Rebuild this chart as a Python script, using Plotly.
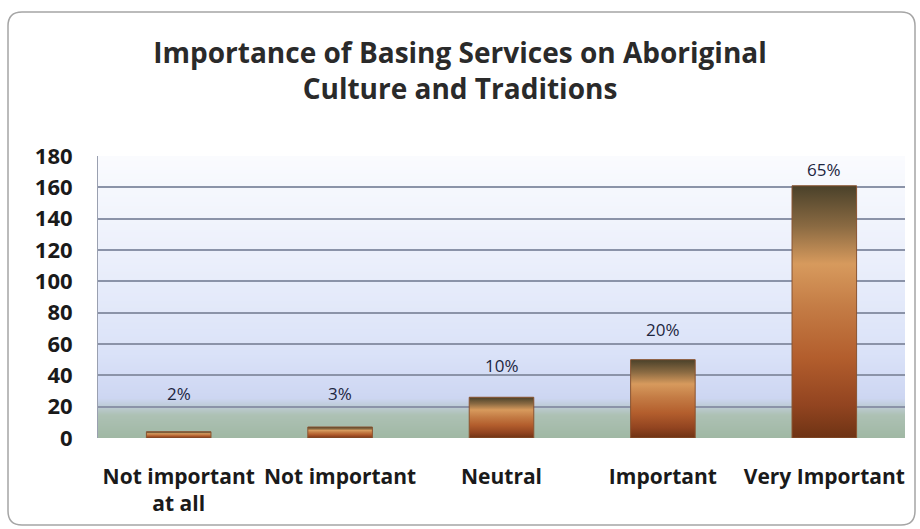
import base64
import struct
import zlib

import plotly.graph_objects as go

# Survey responses
categories = ["Not important<br>at all", "Not important", "Neutral", "Important", "Very Important"]
responses = [4, 7, 26, 50, 161]
y_ticks = [0, 20, 40, 60, 80, 100, 120, 140, 160, 180]

total = sum(responses)
percent_labels = [f"{round(100 * v / total)}%" for v in responses]

FONT = "Open Sans, Lato, Liberation Sans, sans-serif"

W, H = 920, 529
M = dict(l=98, r=15, t=156, b=91)
PW = W - M["l"] - M["r"]
PH = H - M["t"] - M["b"]


def px_x(px):
    return (px - M["l"]) / PW


def px_y(py):
    return (H - M["b"] - py) / PH


def png_column(colors):
    """Build a 1-pixel-wide PNG from a list of RGB rows."""
    raw = b"".join(b"\x00" + bytes(c) for c in colors)

    def chunk(tag, data):
        c = struct.pack(">I", len(data)) + tag + data
        return c + struct.pack(">I", zlib.crc32(tag + data) & 0xFFFFFFFF)

    ihdr = struct.pack(">IIBBBBB", 1, len(colors), 8, 2, 0, 0, 0)
    png = b"\x89PNG\r\n\x1a\n" + chunk(b"IHDR", ihdr) + chunk(b"IDAT", zlib.compress(raw)) + chunk(b"IEND", b"")
    return "data:image/png;base64," + base64.b64encode(png).decode()


def lerp_stops(stops, n):
    out = []
    for i in range(n):
        t = i / (n - 1)
        for (t0, c0), (t1, c1) in zip(stops, stops[1:]):
            if t0 <= t <= t1:
                f = (t - t0) / (t1 - t0) if t1 > t0 else 0
                out.append(tuple(int(round(a + (b - a) * f)) for a, b in zip(c0, c1)))
                break
    return out


# plot-area wash: pale at the top, blue lower down, sage green near the base
bg_stops = [
    (0.00, (250, 251, 254)),
    (0.35, (236, 240, 251)),
    (0.70, (218, 226, 248)),
    (0.86, (205, 214, 242)),
    (0.885, (192, 205, 218)),
    (0.92, (173, 193, 180)),
    (1.00, (160, 184, 164)),
]
bg_uri = png_column(lerp_stops(bg_stops, PH))

bar_scale = [
    [0.00, "#6e3314"],
    [0.13, "#924420"],
    [0.32, "#b35e2d"],
    [0.52, "#c47c45"],
    [0.69, "#d79a5d"],
    [0.84, "#8a6a42"],
    [1.00, "#4a412a"],
]

fig = go.Figure()

half = 0.2
for i, v in enumerate(responses):
    fig.add_trace(go.Scatter(
        x=[i - half, i + half, i + half, i - half, i - half],
        y=[0, 0, v, v, 0],
        mode="lines",
        fill="toself",
        fillgradient=dict(type="vertical", colorscale=bar_scale, start=0, stop=v),
        line=dict(color="#8a5430", width=1),
        hoverinfo="skip",
        showlegend=False,
    ))

label_shift = [36, 31, 29, 28, 14]
for i, (v, lab) in enumerate(zip(responses, percent_labels)):
    fig.add_annotation(
        x=i, y=v, text=lab, showarrow=False, yanchor="bottom", yshift=label_shift[i] - 11,
        font=dict(family=FONT, size=17, color="#1d263f"),
    )

# rounded chart frame
x0, x1 = px_x(8), px_x(915)
y0, y1 = px_y(525), px_y(12)
rx, ry = 14 / PW, 14 / PH
frame = (
    f"M {x0 + rx},{y1} L {x1 - rx},{y1} Q {x1},{y1} {x1},{y1 - ry} "
    f"L {x1},{y0 + ry} Q {x1},{y0} {x1 - rx},{y0} "
    f"L {x0 + rx},{y0} Q {x0},{y0} {x0},{y0 + ry} "
    f"L {x0},{y1 - ry} Q {x0},{y1} {x0 + rx},{y1} Z"
)
fig.add_shape(type="path", path=frame, xref="paper", yref="paper",
              line=dict(color="#a5a5a5", width=1.5), layer="below")

fig.add_layout_image(
    source=bg_uri, xref="paper", yref="paper", x=0, y=1, sizex=1, sizey=1,
    xanchor="left", yanchor="top", sizing="stretch", layer="below",
)

fig.update_layout(
    width=W, height=H,
    margin=M,
    paper_bgcolor="white",
    plot_bgcolor="rgba(0,0,0,0)",
    title=dict(
        text="Importance of Basing Services on Aboriginal<br>Culture and Traditions",
        x=0.5, xref="container", xanchor="center", y=1 - 63 / H, yanchor="top",
        font=dict(family=FONT, size=28, color="#2a2a2a", weight="bold"),
    ),
    xaxis=dict(
        range=[-0.5, 4.5],
        tickvals=list(range(len(categories))),
        ticktext=categories,
        showgrid=False, zeroline=False, showline=False,
        ticks="", ticklabelstandoff=24,
        tickfont=dict(family=FONT, size=21, color="#1a1a1a", weight="bold"),
        fixedrange=True,
    ),
    yaxis=dict(
        range=[0, 180],
        tickvals=y_ticks,
        showgrid=True, gridcolor="#8b93a8", gridwidth=1.5,
        zeroline=True, zerolinecolor="rgba(0,0,0,0)",
        showline=True, linecolor="#9aa0b0", linewidth=1,
        ticks="", ticklabelstandoff=20,
        tickfont=dict(family=FONT, size=22, color="#1a1a1a", weight="bold"),
        fixedrange=True,
    ),
    showlegend=False,
)

fig.write_html("out.html")
